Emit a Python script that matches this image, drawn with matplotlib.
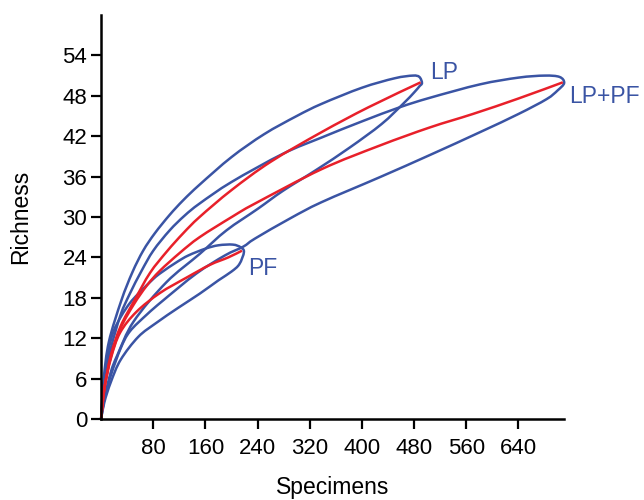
import matplotlib
matplotlib.use("Agg")
import matplotlib.pyplot as plt
import numpy as np
from matplotlib.path import Path
from matplotlib.patches import PathPatch

# rarefaction curves: (specimens, richness)
lp_mean_x = [0, 5, 15, 30, 51, 75, 101, 126, 151, 200, 260, 338, 410, 490]
lp_mean_y = [0, 4.5, 9.5, 13.8, 17.6, 21.7, 24.9, 27.6, 30.0, 34.0, 38.2, 42.6, 46.3, 50.0]
lp_up_x = [0, 4, 12, 31, 48, 64.5, 82.5, 105, 126, 151, 200, 250, 300, 338, 400, 450, 478, 488, 492]
lp_up_y = [0, 6, 11.5, 17.6, 21.8, 25.0, 27.6, 30.3, 32.5, 34.8, 38.9, 42.3, 45.0, 46.8, 49.2, 50.6, 51.0, 50.8, 49.9]
lp_lo_x = [0, 5, 15, 25, 50, 100, 151, 192, 240, 279, 330, 381, 430, 463, 480, 488, 492]
lp_lo_y = [0, 3, 7, 9.5, 14.5, 20.3, 24.5, 28.0, 31.2, 33.9, 37.0, 40.3, 43.8, 46.8, 48.5, 49.4, 49.9]

lpf_mean_x = [0, 5, 15, 30, 50, 70, 90, 121, 151, 202, 236, 338, 427, 504, 570, 640, 708]
lpf_mean_y = [0, 4.5, 9.2, 13.5, 17.0, 19.8, 22.0, 24.7, 27.0, 30.1, 32.0, 37.1, 40.6, 43.3, 45.3, 47.6, 50.0]
lpf_up_x = [0, 5, 15, 30, 44, 62, 80, 105, 128, 151, 200, 279, 338, 400, 458, 504, 581, 640, 680, 703, 710]
lpf_up_y = [0, 5.5, 10.5, 15.5, 18.6, 22.0, 25.0, 28.0, 30.2, 32.0, 35.2, 39.4, 41.8, 44.2, 46.3, 47.7, 49.7, 50.7, 51.0, 50.8, 49.9]
lpf_lo_x = [0, 5, 15, 30, 44, 70, 95, 146, 190, 218, 236, 290, 338, 427, 504, 581, 640, 683, 700, 710]
lpf_lo_y = [0, 3, 6.5, 10.5, 13.0, 15.5, 17.6, 21.6, 24.3, 25.6, 26.8, 29.8, 32.2, 35.9, 39.2, 42.6, 45.3, 47.5, 48.8, 49.9]

pf_mean_x = [0, 5, 15, 29, 54, 90, 131, 167, 195, 216]
pf_mean_y = [0, 4.5, 9.0, 12.8, 15.9, 18.7, 21.0, 22.9, 24.0, 25.0]
pf_up_x = [0, 4, 11, 19, 31, 44, 57, 80, 93, 116, 134, 160, 180, 202, 214, 219]
pf_up_y = [0, 5, 10, 13.0, 15.3, 17.2, 18.6, 20.8, 21.8, 23.3, 24.3, 25.3, 25.8, 25.9, 25.5, 24.8]
pf_lo_x = [0, 5, 15, 30, 57, 85, 118, 151, 180, 200, 212, 219]
pf_lo_y = [0, 2.5, 5.5, 8.8, 12.2, 14.3, 16.5, 18.6, 20.6, 21.9, 23.0, 24.8]

labels = ["LP", "LP+PF", "PF"]
label_pos = [(504, 51.4), (718, 47.9), (225, 22.4)]

blue = "#3a54a4"
red = "#e8202a"


def smooth(xs, ys):
    # catmull-rom through the read points, drawn as bezier segments
    p = np.column_stack([xs, ys]).astype(float)
    n = len(p)
    verts = [p[0]]
    codes = [Path.MOVETO]
    for i in range(n - 1):
        p0 = p[i - 1] if i > 0 else p[i]
        p1, p2 = p[i], p[i + 1]
        p3 = p[i + 2] if i + 2 < n else p[i + 1]
        verts += [p1 + (p2 - p0) / 6, p2 - (p3 - p1) / 6, p2]
        codes += [Path.CURVE4] * 3
    return Path(verts, codes)


def loop(ux, uy, lx, ly):
    # upper band out to the tip, lower band back to the origin
    return smooth(list(ux) + list(lx[::-1][1:]), list(uy) + list(ly[::-1][1:]))


plt.rcParams['font.family'] = ['Liberation Sans', 'DejaVu Sans']

fig = plt.figure(figsize=(6.44, 5.0), dpi=100)
ax = fig.add_axes([0.157, 0.162, 0.719, 0.808])

for path in [loop(lp_up_x, lp_up_y, lp_lo_x, lp_lo_y),
             loop(lpf_up_x, lpf_up_y, lpf_lo_x, lpf_lo_y),
             loop(pf_up_x, pf_up_y, pf_lo_x, pf_lo_y)]:
    ax.add_patch(PathPatch(path, facecolor='none', edgecolor=blue, lw=1.8, clip_on=False))

for xs, ys in [(lp_mean_x, lp_mean_y), (lpf_mean_x, lpf_mean_y), (pf_mean_x, pf_mean_y)]:
    ax.add_patch(PathPatch(smooth(xs, ys), facecolor='none', edgecolor=red, lw=1.8, clip_on=False))

for lab, (x, y) in zip(labels, label_pos):
    ax.text(x, y, lab, color=blue, fontsize=16.5, ha='left', va='center', clip_on=False)

ax.set_xlim(0, 710)
ax.set_ylim(0, 60)
ax.set_xticks(range(80, 641, 80))
ax.set_yticks(range(0, 55, 6))
ax.tick_params(labelsize=16, width=1.6, length=7, direction='out')
ax.tick_params(axis='x', pad=7)
ax.tick_params(axis='y', pad=3)
for s in ['top', 'right']:
    ax.spines[s].set_visible(False)
for s in ['left', 'bottom']:
    ax.spines[s].set_linewidth(1.8)

ax.set_xlabel("Specimens", fontsize=16.5, labelpad=12)
ax.set_ylabel("Richness", fontsize=16.5, labelpad=22)

fig.savefig("out.png", dpi=100)
